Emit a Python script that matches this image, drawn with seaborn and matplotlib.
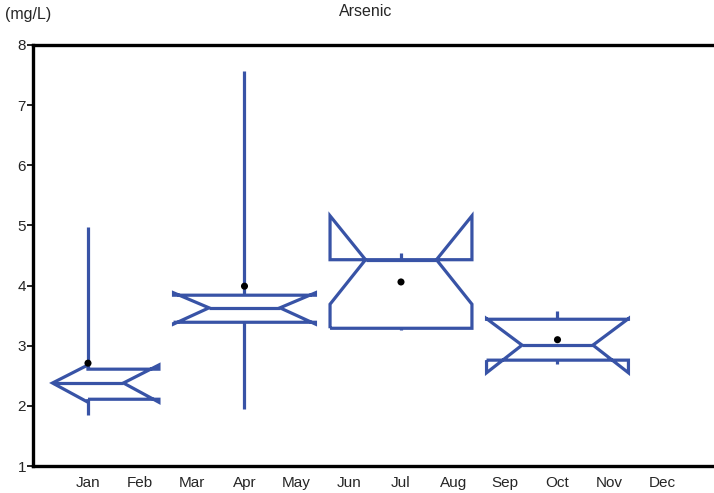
import numpy as np
import pandas as pd
import matplotlib
matplotlib.use("Agg")
import matplotlib.pyplot as plt
import seaborn as sns

# ---- data ----
months = ['Jan', 'Feb', 'Mar', 'Apr', 'May', 'Jun',
          'Jul', 'Aug', 'Sep', 'Oct', 'Nov', 'Dec']
box_month = ['Jan', 'Apr', 'Jul', 'Oct']
whislo = [1.85, 1.95, 3.26, 2.70]
q1 = [2.11, 3.39, 3.29, 2.76]
med = [2.38, 3.63, 4.43, 3.01]
q3 = [2.61, 3.84, 4.43, 3.44]
whishi = [4.97, 7.57, 4.54, 3.58]
cilo = [2.06, 3.36, 3.69, 2.55]
cihi = [2.68, 3.88, 5.16, 3.45]
means = [2.71, 3.99, 4.06, 3.10]
y_ticks = [1, 2, 3, 4, 5, 6, 7, 8]

BLUE = '#3853A6'
BOX_W = 2.72
XLIM = (-0.054, 13.0)

sns.set_style("white")
plt.rcParams['font.family'] = ['Liberation Sans', 'DejaVu Sans']

fig = plt.figure(figsize=(7.14, 4.93), dpi=100)
W, H = 714, 493
ax = fig.add_axes([33 / W, (H - 466) / H, 1 - 33 / W, (466 - 45) / H])

pos = [months.index(m) + 1 for m in box_month]

rows = []
for i, p in enumerate(pos):
    left = p - BOX_W / 2
    if left < XLIM[0]:
        left = p
    right = p + BOX_W / 2
    nl = p - BOX_W / 4
    nr = p + BOX_W / 4
    xs = [left, right, right, nr, right, right, left, left, nl, left, left]
    ys = [q1[i], q1[i], cilo[i], med[i], cihi[i], q3[i], q3[i], cihi[i],
          med[i], cilo[i], q1[i]]
    for k, (x, y) in enumerate(zip(xs, ys)):
        rows.append(dict(seg=f'box{i}', order=k, x=x, y=y))
    for k, (x, y) in enumerate(zip([nl, nr], [med[i], med[i]])):
        rows.append(dict(seg=f'med{i}', order=k, x=x, y=y))
    for k, (x, y) in enumerate(zip([p, p], [q3[i], whishi[i]])):
        rows.append(dict(seg=f'wh{i}', order=k, x=x, y=y))
    for k, (x, y) in enumerate(zip([p, p], [q1[i], whislo[i]])):
        rows.append(dict(seg=f'wl{i}', order=k, x=x, y=y))
df = pd.DataFrame(rows)

for seg, g in df.groupby('seg', sort=False):
    sns.lineplot(data=g, x='x', y='y', sort=False, estimator=None,
                 color=BLUE, linewidth=2.3, ax=ax, legend=False,
                 solid_joinstyle='miter', solid_capstyle='butt')

mdf = pd.DataFrame(dict(x=pos, y=means))
sns.scatterplot(data=mdf, x='x', y='y', color='black', s=26,
                edgecolor='none', ax=ax, zorder=5, legend=False)

ax.set_xlim(*XLIM)
ax.set_ylim(1, 8)
ax.set_xticks(range(1, 13))
ax.set_xticklabels(months)
ax.set_yticks(y_ticks)
ax.set_yticklabels([str(t) for t in y_ticks])
ax.set_xlabel('')
ax.set_ylabel('')
ax.tick_params(axis='x', length=0, pad=7, labelsize=11)
ax.tick_params(axis='y', length=4, width=1.2, pad=1, labelsize=11,
               left=True, color='black')

for s in ['left', 'bottom', 'top']:
    ax.spines[s].set_visible(True)
    ax.spines[s].set_color('black')
    ax.spines[s].set_linewidth(2.4)
ax.spines['right'].set_visible(False)

fig.text(366 / W, 1 - 11 / H, 'Arsenic', ha='center', va='center',
         fontsize=11.5)
fig.text(5 / W, 1 - 14 / H, '(mg/L)', ha='left', va='center', fontsize=11.5)

fig.savefig('out.png', dpi=100)
